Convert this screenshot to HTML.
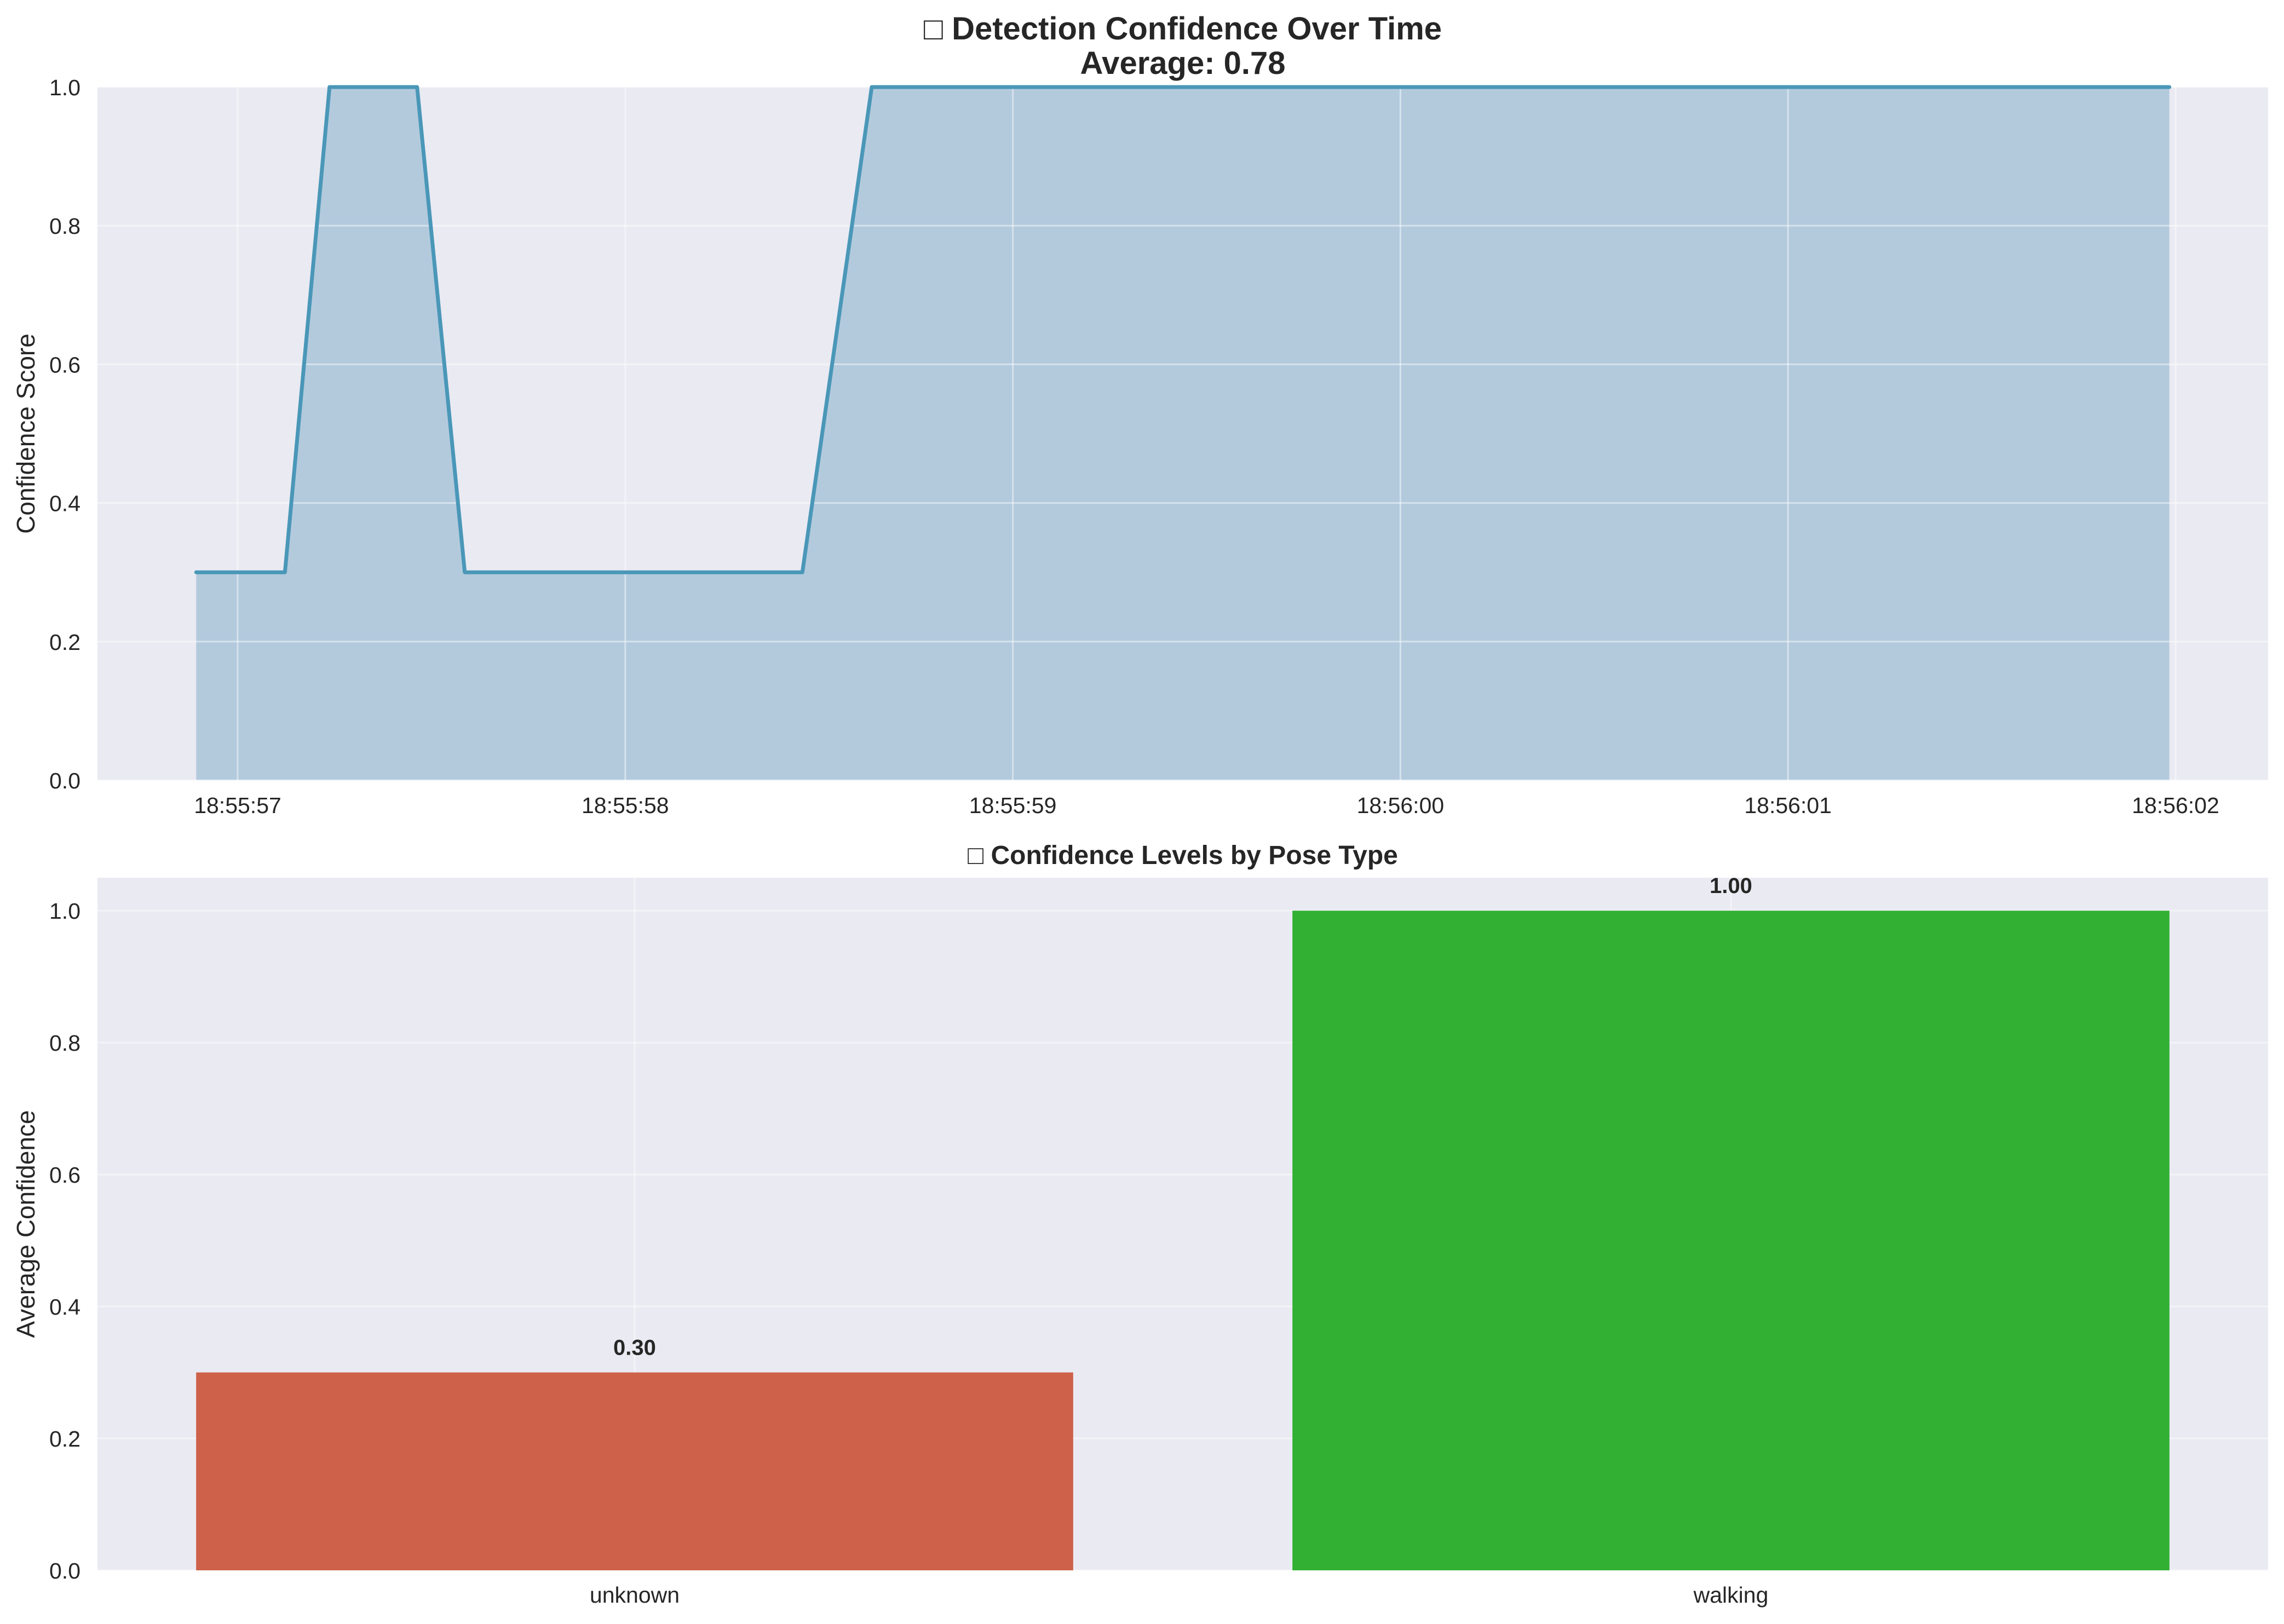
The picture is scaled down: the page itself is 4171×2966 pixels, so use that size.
<!DOCTYPE html>
<html><head><meta charset="utf-8">
<style>
html,body{margin:0;padding:0;background:#fff;}
svg{display:block;font-family:"Liberation Sans","DejaVu Sans",sans-serif;}
</style></head>
<body>
<svg id="chart" width="4171" height="2966" viewBox="0 0 4171 2966" xmlns="http://www.w3.org/2000/svg">
<rect x="0" y="0" width="4171" height="2966" fill="#ffffff"/>
<g id="topchart"></g>
<g id="botchart"></g>
</svg>
<script>
// ---- Top chart data (seconds after 18:55:57) ----
const timeSeconds = [-0.107, 0.122, 0.237, 0.463, 0.586, 1.457, 1.636, 4.984];
const confidenceValues = [0.3, 0.3, 1.0, 1.0, 0.3, 0.3, 1.0, 1.0];
const timeTickSeconds = [0, 1, 2, 3, 4, 5];
const timeTickLabels = ["18:55:57", "18:55:58", "18:55:59", "18:56:00", "18:56:01", "18:56:02"];
const topYTicks = [0.0, 0.2, 0.4, 0.6, 0.8, 1.0];
// ---- Bottom chart data ----
const poseCategories = ["unknown", "walking"];
const poseAverages = [0.30, 1.00];
const poseColors = ["#cd6149", "#31b033"];
const bottomYTicks = [0.0, 0.2, 0.4, 0.6, 0.8, 1.0];

const NS = "http://www.w3.org/2000/svg";
function mk(parent, tag, attrs, text) {
  const e = document.createElementNS(NS, tag);
  for (const k in attrs) e.setAttribute(k, attrs[k]);
  if (text !== undefined) e.textContent = text;
  parent.appendChild(e);
  return e;
}

const L = 178, R = 4142;
// ---------- TOP ----------
const topG = document.getElementById('topchart');
const T1 = 159, B1 = 1425;
const xMin1 = -0.3617, xMax1 = 5.2388;
const xs1 = v => L + (v - xMin1) / (xMax1 - xMin1) * (R - L);
const ys1 = v => B1 - v * (B1 - T1);

let el = mk(topG, 'rect', {x: L, y: T1, width: R - L, height: B1 - T1, fill: '#eaeaf2'});



let pts = timeSeconds.map((t, i) => xs1(t) + ',' + ys1(confidenceValues[i]));
let areaD = 'M' + xs1(timeSeconds[0]) + ',' + ys1(0) + ' L' + pts.join(' L') + ' L' + xs1(timeSeconds[timeSeconds.length - 1]) + ',' + ys1(0) + ' Z';
el = mk(topG, 'path', {d: areaD, fill: '#b3cadd'});



timeTickSeconds.forEach((t, i) => {
  const g = mk(topG, 'line', {x1: xs1(t), x2: xs1(t), y1: T1, y2: B1, stroke: '#ffffff', 'stroke-width': 3, 'stroke-opacity': 0.45});
  
  
  const tl = mk(topG, 'text', {x: xs1(t), y: 1485, 'font-size': 41, fill: '#262626', 'text-anchor': 'middle'}, timeTickLabels[i]);
  
  
});
topYTicks.forEach(v => {
  const g = mk(topG, 'line', {x1: L, x2: R, y1: ys1(v), y2: ys1(v), stroke: '#ffffff', 'stroke-width': 3, 'stroke-opacity': 0.45});
  
  
  const tl = mk(topG, 'text', {x: 147, y: ys1(v) + 15, 'font-size': 41, fill: '#262626', 'text-anchor': 'end'}, v.toFixed(1));
  
  
});

el = mk(topG, 'polyline', {points: pts.join(' '), fill: 'none', stroke: '#4a97b8', 'stroke-width': 7, 'stroke-linejoin': 'round', 'stroke-linecap': 'round'});



el = mk(topG, 'text', {x: 0, y: 0, 'font-size': 46, fill: '#262626', 'text-anchor': 'middle', transform: 'translate(63,' + ((T1 + B1) / 2) + ') rotate(-90)'}, 'Confidence Score');



el = mk(topG, 'text', {x: (L + R) / 2, y: 72, 'font-size': 58, 'font-weight': 'bold', fill: '#262626', 'text-anchor': 'middle'}, '\u25A1 Detection Confidence Over Time');


el = mk(topG, 'text', {x: (L + R) / 2, y: 135, 'font-size': 58, 'font-weight': 'bold', fill: '#262626', 'text-anchor': 'middle'}, 'Average: 0.78');



// ---------- BOTTOM ----------
const botG = document.getElementById('botchart');
const T2 = 1603, B2 = 2868;
const yMax2 = 1.05;
const xMin2 = -0.49, xMax2 = 1.49;
const xs2 = v => L + (v - xMin2) / (xMax2 - xMin2) * (R - L);
const ys2 = v => B2 - v / yMax2 * (B2 - T2);

el = mk(botG, 'rect', {x: L, y: T2, width: R - L, height: B2 - T2, fill: '#eaeaf2'});



bottomYTicks.forEach(v => {
  const g = mk(botG, 'line', {x1: L, x2: R, y1: ys2(v), y2: ys2(v), stroke: '#ffffff', 'stroke-width': 3, 'stroke-opacity': 0.45});
  
  
  const tl = mk(botG, 'text', {x: 147, y: ys2(v) + 15, 'font-size': 41, fill: '#262626', 'text-anchor': 'end'}, v.toFixed(1));
  
  
});
poseCategories.forEach((c, i) => {
  const g = mk(botG, 'line', {x1: xs2(i), x2: xs2(i), y1: T2, y2: B2, stroke: '#ffffff', 'stroke-width': 3, 'stroke-opacity': 0.45});
  
  
});
poseCategories.forEach((c, i) => {
  const x0 = xs2(i - 0.4), x1 = xs2(i + 0.4);
  const b = mk(botG, 'rect', {x: x0, y: ys2(poseAverages[i]), width: x1 - x0, height: ys2(0) - ys2(poseAverages[i]), fill: poseColors[i]});
  
  
  const vl = mk(botG, 'text', {x: xs2(i), y: ys2(poseAverages[i]) - 32, 'font-size': 40, 'font-weight': 'bold', fill: '#262626', 'text-anchor': 'middle'}, poseAverages[i].toFixed(2));
  
  
  const tl = mk(botG, 'text', {x: xs2(i), y: 2927, 'font-size': 41, fill: '#262626', 'text-anchor': 'middle'}, c);
  
  
});

el = mk(botG, 'text', {x: 0, y: 0, 'font-size': 46, fill: '#262626', 'text-anchor': 'middle', transform: 'translate(63,' + ((T2 + B2) / 2) + ') rotate(-90)'}, 'Average Confidence');



el = mk(botG, 'text', {x: (L + R) / 2, y: 1578, 'font-size': 48, 'font-weight': 'bold', fill: '#262626', 'text-anchor': 'middle'}, '\u25A1 Confidence Levels by Pose Type');


</script>
</body></html>
